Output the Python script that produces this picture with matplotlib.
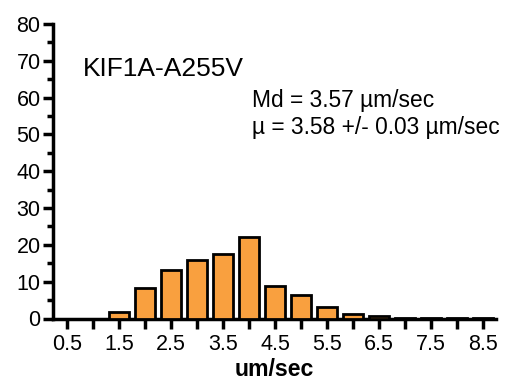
import matplotlib
matplotlib.use("Agg")
import matplotlib.pyplot as plt
from matplotlib.ticker import MultipleLocator

plt.rcParams['font.family'] = ['Liberation Sans', 'DejaVu Sans']

bin_centers = [0.5, 1.0, 1.5, 2.0, 2.5, 3.0, 3.5, 4.0, 4.5, 5.0, 5.5, 6.0, 6.5, 7.0, 7.5, 8.0, 8.5]
percent = [0, 0, 1.8, 8.2, 13.3, 15.9, 17.5, 22.1, 8.8, 6.3, 3.1, 1.1, 0.55, 0.25, 0.1, 0.08, 0.08]
xtick_vals = [0.5, 1.5, 2.5, 3.5, 4.5, 5.5, 6.5, 7.5, 8.5]
xtick_labels = ["0.5", "1.5", "2.5", "3.5", "4.5", "5.5", "6.5", "7.5", "8.5"]
ytick_vals = [0, 10, 20, 30, 40, 50, 60, 70, 80]
title_text = "KIF1A-A255V"
stat_lines = ["Md = 3.57 µm/sec", "µ = 3.58 +/- 0.03 µm/sec"]
xlabel = "um/sec"

fig = plt.figure(figsize=(5.08, 3.80), dpi=100)
ax = fig.add_axes([53/508, 1-318.5/380, (496-53)/508, (318.5-24)/380])

ax.bar(bin_centers, percent, width=0.37, color='#F9A03F', edgecolor='black', linewidth=2, zorder=3)

ax.set_xlim(0.23, 8.75)
ax.set_ylim(0, 80)
ax.set_xticks(xtick_vals)
ax.set_xticklabels(xtick_labels)
ax.xaxis.set_minor_locator(MultipleLocator(0.5))
ax.set_yticks(ytick_vals)
ax.yaxis.set_minor_locator(MultipleLocator(5))

for s in ['top', 'right']:
    ax.spines[s].set_visible(False)
for s in ['left', 'bottom']:
    ax.spines[s].set_linewidth(2.5)

ax.tick_params(axis='both', which='major', length=7, width=2.5, labelsize=15.5, pad=2)
ax.tick_params(axis='x', which='major', pad=4)
ax.tick_params(axis='x', which='minor', length=7, width=2.5)
ax.tick_params(axis='y', which='minor', length=4, width=2.5)

fig.text(274.5/508, 1-376/380, xlabel, fontsize=16.7, fontweight='bold', ha='center', va='baseline')

fig.text(83/508, 1-76/380, title_text, fontsize=19, ha='left', va='baseline')
fig.text(252/508, 1-106.5/380, stat_lines[0], fontsize=16.4, ha='left', va='baseline')
fig.text(252/508, 1-134/380, stat_lines[1], fontsize=16.4, ha='left', va='baseline')

fig.savefig("out.png", dpi=100)
